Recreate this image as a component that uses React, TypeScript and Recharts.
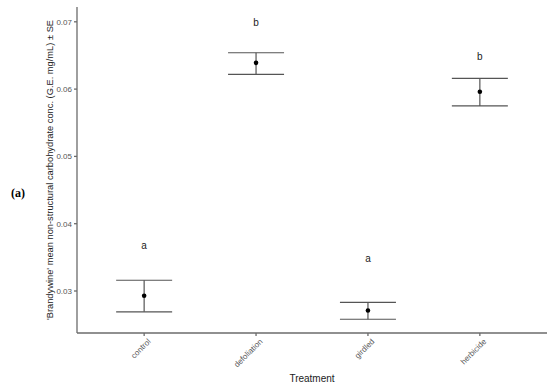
import React from 'react';
import { ComposedChart, Scatter, XAxis, YAxis, ErrorBar } from 'recharts';

const treatments = ['control', 'defoliation', 'girdled', 'herbicide'];
const means = [0.0293, 0.0639, 0.0271, 0.0596];
const upper = [0.0316, 0.0654, 0.0283, 0.0616];
const lower = [0.0269, 0.0622, 0.0258, 0.0575];
const letters = ['a', 'b', 'a', 'b'];
const letterPos = [0.0367, 0.0698, 0.0347, 0.0648];
const yTicks = [0.03, 0.04, 0.05, 0.06, 0.07];

const points = treatments.map((t, i) => ({
  x: i + 1,
  y: means[i],
  err: [means[i] - lower[i], upper[i] - means[i]],
}));

const letterData = treatments.map((t, i) => ({ x: i + 1, y: letterPos[i], letter: letters[i] }));

const XTick = (props: any) => {
  const { x, y, payload } = props;
  return (
    <text
      x={x + 7}
      y={y + 4}
      transform={`rotate(-45 ${x + 7} ${y + 4})`}
      textAnchor="end"
      fontSize={8}
      fill="#555"
      fontFamily="Liberation Sans, Arial, sans-serif"
    >
      {treatments[payload.value - 1]}
    </text>
  );
};

const LetterShape = (props: any) => (
  <text x={props.cx} y={props.cy + 3} textAnchor="middle" fontSize={10} fill="#222" fontFamily="Liberation Sans, Arial, sans-serif">
    {props.payload.letter}
  </text>
);

export default function App() {
  return (
    <div style={{ position: 'absolute', left: 0, top: 0, width: 550, height: 386, background: '#fff' }}>
      <span style={{ position: 'absolute', left: 11, top: 186, fontFamily: 'Liberation Serif, serif', fontWeight: 'bold', fontSize: 12 }}>
        (a)
      </span>
      <ComposedChart width={550} height={386} margin={{ top: 7, right: 3, bottom: 0, left: 0 }}>
        <XAxis
          type="number"
          dataKey="x"
          domain={[0.4, 4.6]}
          ticks={[1, 2, 3, 4]}
          tick={<XTick />}
          tickSize={3}
          height={53}
          stroke="#6b6b6b"
          strokeWidth={1.3}
          allowDataOverflow
          label={{ value: 'Treatment', position: 'insideBottom', offset: 4, fontSize: 10, fill: '#222', fontFamily: 'Liberation Sans, Arial, sans-serif' }}
        />
        <YAxis
          type="number"
          dataKey="y"
          domain={[0.02376, 0.0722]}
          ticks={yTicks}
          tickFormatter={(v: number) => v.toFixed(2)}
          tick={{ fontSize: 8, fill: '#555', fontFamily: 'Liberation Sans, Arial, sans-serif' }}
          tickSize={3}
          width={77}
          stroke="#6b6b6b"
          strokeWidth={1.3}
          allowDataOverflow
          label={{
            value: "'Brandywine' mean non-structural carbohydrate conc. (G.E. mg/mL) ± SE",
            angle: -90,
            position: 'insideLeft',
            offset: 0,
            dx: 50,
            style: { textAnchor: 'middle', fontSize: 9.3, fill: '#222', fontFamily: 'Liberation Sans, Arial, sans-serif' },
          }}
        />
        <Scatter data={points} fill="#000" isAnimationActive={false} shape={(p: any) => <circle cx={p.cx} cy={p.cy} r={2.3} fill="#000" />}>
          <ErrorBar dataKey="err" direction="y" width={28} stroke="#555" strokeWidth={1.2} />
        </Scatter>
        <Scatter data={letterData} fill="#222" isAnimationActive={false} shape={<LetterShape />} />
      </ComposedChart>
    </div>
  );
}
